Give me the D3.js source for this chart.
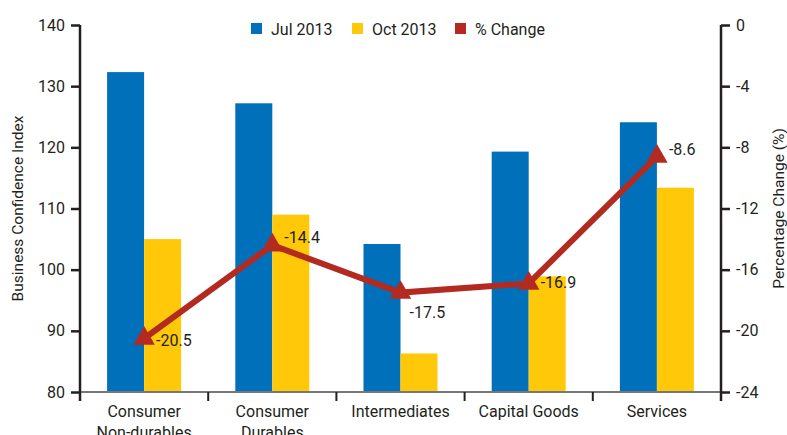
<!DOCTYPE html>
<html>
<head>
<meta charset="utf-8">
<script src="https://cdn.jsdelivr.net/npm/d3@7"></script>
<style>
  body { margin: 0; background: #fff; }
  svg text { font-family: Roboto, "DejaVu Sans", sans-serif; fill: #231f20; }
</style>
</head>
<body>
<svg id="chart" width="787" height="435"></svg>
<script>
// data
const categories = [["Consumer", "Non-durables"], ["Consumer", "Durables"], ["Intermediates"], ["Capital Goods"], ["Services"]];
const jul2013 = [132.3, 127.2, 104.2, 119.3, 124.1];
const oct2013 = [105.0, 109.0, 86.3, 98.9, 113.4];
const pctChange = [-20.5, -14.4, -17.5, -16.9, -8.6];
const leftTicks = [80, 90, 100, 110, 120, 130, 140];
const rightTicks = [0, -4, -8, -12, -16, -20, -24];

const blue = "#0070ba", yellow = "#ffc90a", red = "#b22a20";
// plain hyphen instead of d3's unicode minus
const fmt = f => v => d3.format(f)(v).replace("\u2212", "-");

const svg = d3.select("#chart");
const margin = { left: 80, right: 66, top: 25, bottom: 43 };
const width = 787 - margin.left - margin.right;
const height = 435 - margin.top - margin.bottom;
const g = svg.append("g").attr("transform", `translate(${margin.left},${margin.top})`);

const x = d3.scaleBand().domain(d3.range(categories.length)).range([0, width]);
const y = d3.scaleLinear().domain([80, 140]).range([height, 0]);
const y2 = d3.scaleLinear().domain([-24, 0]).range([height, 0]);
const barW = 37;

// bars
g.selectAll(".jul").data(jul2013).enter().append("rect")
    .attr("x", (d, i) => x(i) + x.bandwidth() / 2 - barW)
    .attr("y", d => y(d))
    .attr("width", barW)
    .attr("height", d => height - y(d))
    .attr("fill", blue);
g.selectAll(".oct").data(oct2013).enter().append("rect")
    .attr("x", (d, i) => x(i) + x.bandwidth() / 2)
    .attr("y", d => y(d))
    .attr("width", barW)
    .attr("height", d => height - y(d))
    .attr("fill", yellow);

// baseline
g.append("line").attr("x1", 0).attr("x2", width).attr("y1", height).attr("y2", height)
    .attr("stroke", "#777").attr("stroke-width", 2);

// category separators
g.selectAll(".sep").data(d3.range(1, categories.length)).enter().append("line")
    .attr("x1", d => x(d)).attr("x2", d => x(d))
    .attr("y1", height).attr("y2", height + 9)
    .attr("stroke", "#231f20").attr("stroke-width", 2);

// category labels
const cl = g.selectAll(".cat").data(categories).enter().append("text")
    .attr("text-anchor", "middle")
    .attr("font-size", 16)
    .attr("transform", (d, i) => `translate(${x(i) + x.bandwidth() / 2},${height + 25})`);
cl.selectAll("tspan").data(d => d).enter().append("tspan")
    .attr("x", 0).attr("dy", (d, i) => i === 0 ? 0 : 21).text(d => d);

// left axis
const la = g.append("g").call(d3.axisLeft(y).tickValues(leftTicks).tickSize(9).tickPadding(6));
la.select(".domain").attr("d", `M0,0V${height + 9}`).attr("stroke", "#231f20").attr("stroke-width", 2.5);
la.selectAll(".tick line").attr("stroke", "#231f20").attr("stroke-width", 2.5);
la.selectAll(".tick text").attr("font-size", 16).attr("font-family", null);

// right axis
const ra = g.append("g").attr("transform", `translate(${width},0)`)
    .call(d3.axisRight(y2).tickValues(rightTicks).tickSize(9).tickPadding(6).tickFormat(fmt("d")));
ra.select(".domain").attr("d", `M0,0V${height + 9}`).attr("stroke", "#231f20").attr("stroke-width", 2.5);
ra.selectAll(".tick line").attr("stroke", "#231f20").attr("stroke-width", 2.5);
ra.selectAll(".tick text").attr("font-size", 16).attr("font-family", null);

// axis titles
svg.append("text").attr("transform", `translate(23,${margin.top + height / 2}) rotate(-90)`)
    .attr("text-anchor", "middle").attr("font-size", 15.5).text("Business Confidence Index");
svg.append("text").attr("transform", `translate(784,${margin.top + height / 2}) rotate(-90)`)
    .attr("text-anchor", "middle").attr("font-size", 15.5).text("Percentage Change (%)");

// % change line
const cx = i => x(i) + x.bandwidth() / 2;
g.append("path").datum(pctChange)
    .attr("d", d3.line().x((d, i) => cx(i)).y(d => y2(d)))
    .attr("fill", "none").attr("stroke", red).attr("stroke-width", 6);
g.selectAll(".mk").data(pctChange).enter().append("path")
    .attr("d", d3.symbol(d3.symbolTriangle, 200))
    .attr("transform", (d, i) => `translate(${cx(i)},${y2(d)})`)
    .attr("fill", red);

// value labels
const labelOffsets = [[12, 8], [12, -2], [9, 25], [12, 5], [12, -2]];
g.selectAll(".val").data(pctChange).enter().append("text")
    .attr("x", (d, i) => cx(i) + labelOffsets[i][0])
    .attr("y", (d, i) => y2(d) + labelOffsets[i][1])
    .attr("font-size", 16)
    .text(fmt(".1f"));

// legend
const legendItems = [["Jul 2013", blue, 251], ["Oct 2013", yellow, 352], ["% Change", red, 455]];
const lg = svg.selectAll(".lg").data(legendItems).enter().append("g")
    .attr("transform", d => `translate(${d[2]},23)`);
lg.append("rect").attr("width", 11).attr("height", 11).attr("fill", d => d[1]);
lg.append("text").attr("x", 20).attr("y", 11.5).attr("font-size", 16).text(d => d[0]);
</script>
</body>
</html>
